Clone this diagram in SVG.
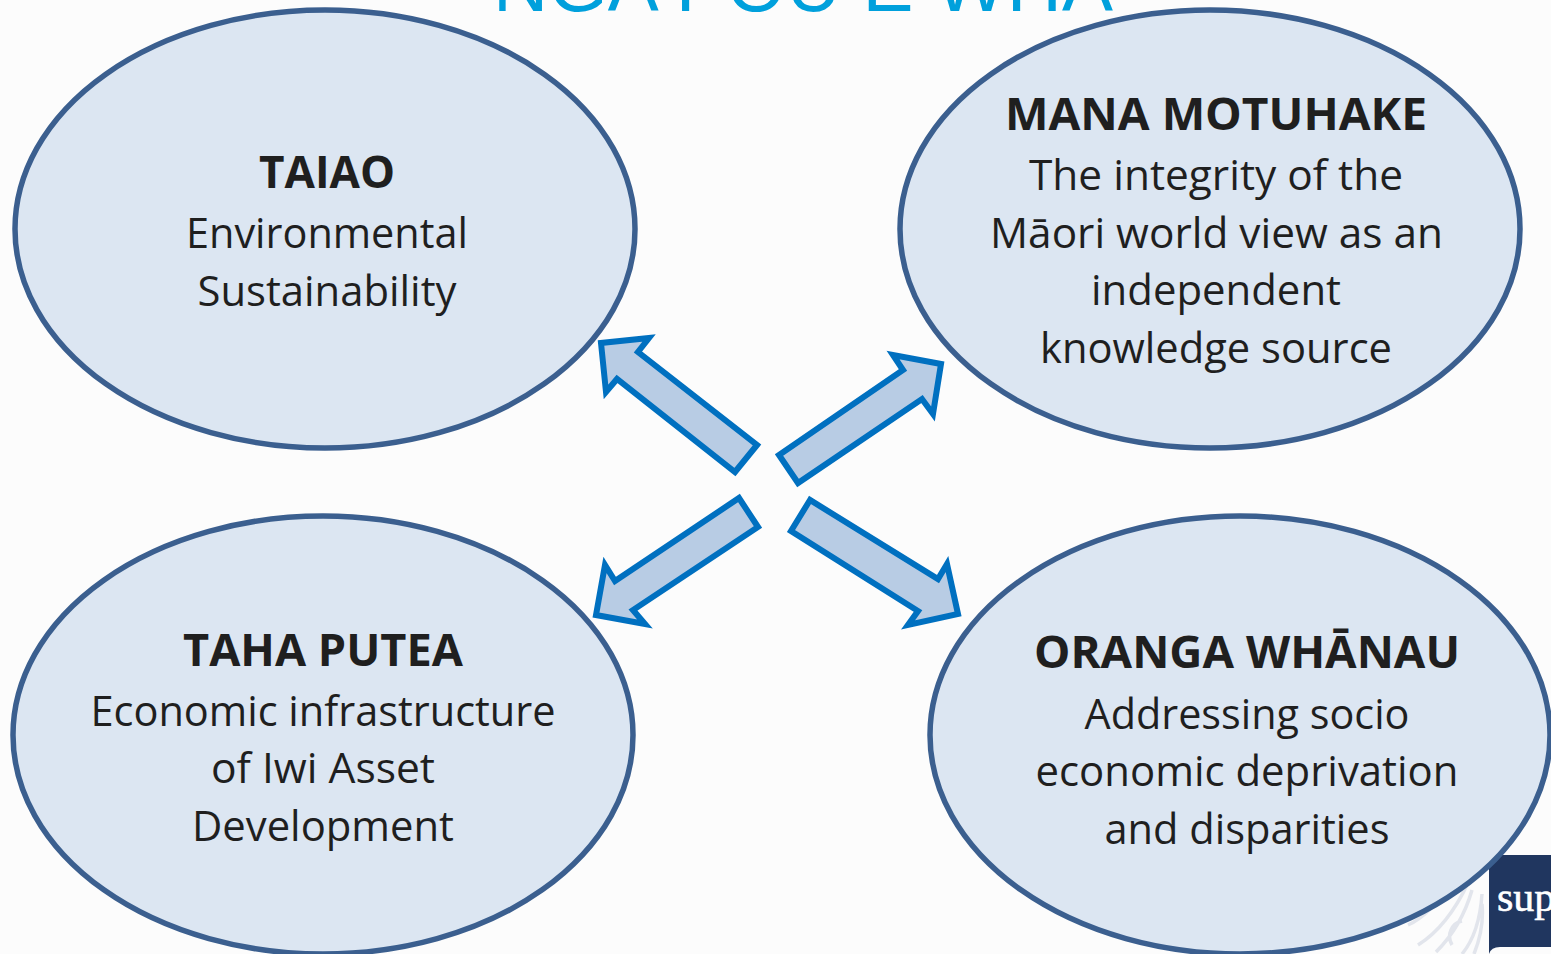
<svg xmlns="http://www.w3.org/2000/svg" width="1551" height="954" viewBox="0 0 1551 954">
<style>
.n{fill:#dce6f2;stroke:#3b5f8f;stroke-width:5.5}
.a{fill:#b8cce4;stroke:#0070c0;stroke-width:6;stroke-linejoin:miter;stroke-miterlimit:8}
text{font-family:"Open Sans","Noto Sans","Liberation Sans",sans-serif;text-anchor:middle;fill:#1f1f1f}
.h{font-size:45px;font-weight:700}
.b{font-size:42.5px}
.k{fill:none;stroke:#e2e5ec;stroke-width:3.5}
</style>
<rect width="1551" height="954" fill="#fcfcfc"/>
<text id="title" x="803" y="11" style="font-family:'Liberation Sans',sans-serif;font-size:78px;fill:#00a0dc" textLength="620" lengthAdjust="spacingAndGlyphs">NGA POU E WHA</text>
<g id="logo">
<path class="k" d="M1408 925c14-6 30-22 42-40M1418 945c16-10 34-28 50-62M1436 952c14-14 28-34 36-62M1452 945c-6-10 0-22 10-24M1462 954c10-12 18-30 20-60M1474 954c4-10 10-30 8-50"/>
<path d="M1489 855H1551V954H1489Z" fill="#20365f"/>
<path d="M1551 947H1500Q1491 947 1489 954H1551Z" fill="#fcfcfc"/>
<text x="1497" y="911" style="font-family:'Liberation Serif',serif;font-size:42px;font-weight:400;fill:#fff;stroke:#fff;stroke-width:.6;text-anchor:start">sup</text>
</g>
<g id="taiao">
<ellipse class="n" cx="325" cy="229" rx="310" ry="219"/>
<text class="h" x="327" y="188" textLength="136" lengthAdjust="spacingAndGlyphs">TAIAO</text>
<text class="b" x="327" y="248" textLength="282" lengthAdjust="spacingAndGlyphs">Environmental</text>
<text class="b" x="327" y="306" textLength="259" lengthAdjust="spacingAndGlyphs">Sustainability</text>
</g>
<g id="mana-motuhake">
<ellipse class="n" cx="1210" cy="229" rx="310" ry="219"/>
<text class="h" x="1216" y="130" textLength="422" lengthAdjust="spacingAndGlyphs">MANA MOTUHAKE</text>
<text class="b" x="1216" y="190" textLength="374" lengthAdjust="spacingAndGlyphs">The integrity of the</text>
<text class="b" x="1216.500" y="248" textLength="453" lengthAdjust="spacingAndGlyphs">Māori world view as an</text>
<text class="b" x="1216" y="305" textLength="250" lengthAdjust="spacingAndGlyphs">independent</text>
<text class="b" x="1216" y="363" textLength="352" lengthAdjust="spacingAndGlyphs">knowledge source</text>
</g>
<g id="taha-putea">
<ellipse class="n" cx="323" cy="735" rx="310" ry="219"/>
<text class="h" x="323" y="666" textLength="280" lengthAdjust="spacingAndGlyphs">TAHA PUTEA</text>
<text class="b" x="323" y="726" textLength="465" lengthAdjust="spacingAndGlyphs">Economic infrastructure</text>
<text class="b" x="323" y="783" textLength="224" lengthAdjust="spacingAndGlyphs">of Iwi Asset</text>
<text class="b" x="323" y="841" textLength="262" lengthAdjust="spacingAndGlyphs">Development</text>
</g>
<g id="oranga-whanau">
<ellipse class="n" cx="1240" cy="735" rx="310" ry="219"/>
<text class="h" x="1247" y="668" textLength="426" lengthAdjust="spacingAndGlyphs">ORANGA WHĀNAU</text>
<text class="b" x="1247" y="729" textLength="325" lengthAdjust="spacingAndGlyphs">Addressing socio</text>
<text class="b" x="1247" y="786" textLength="423" lengthAdjust="spacingAndGlyphs">economic deprivation</text>
<text class="b" x="1247" y="844" textLength="285" lengthAdjust="spacingAndGlyphs">and disparities</text>
</g>
<g id="connectors">
<polygon class="a" points="757,445 735,472 617,379 606,392 601,343 649,338 638,352"/>
<polygon class="a" points="779,455 798,483 922,399 933,414 941,364 893,355 903,370"/>
<polygon class="a" points="739,498 758,527 633,610 645,624 596,615 605,565 615,581"/>
<polygon class="a" points="810,500 791,531 918,611 908,625 958,614 947,564 938,579"/>
</g>
</svg>
